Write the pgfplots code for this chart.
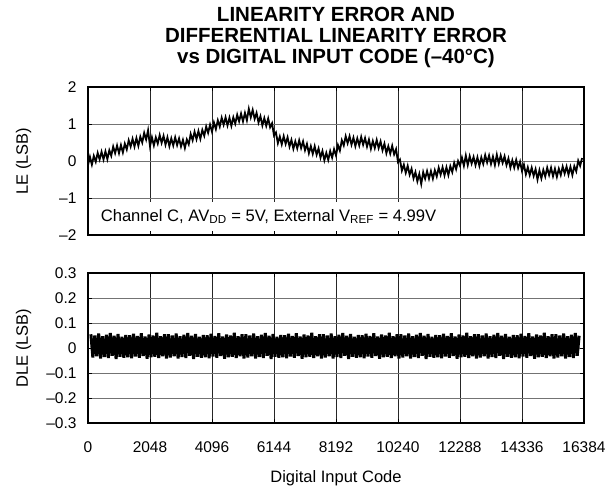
\documentclass[border=0pt]{standalone}
\usepackage{fontspec}
\setmainfont{Liberation Sans}
\usepackage{pgfplots}
\pgfplotsset{compat=1.18}
\pgfplotsset{myax/.style={
  scale only axis, width=496pt,
  xmin=0, xmax=16384,
  xtick={0,2048,4096,6144,8192,10240,12288,14336,16384},
  scaled x ticks=false,
  grid=major,
  x grid style={line width=0.6pt, draw=black!85},
  y grid style={line width=0.7pt, draw=black!55},
  axis line style={line width=2.4pt},
  major tick length=4pt, tick align=inside,
  tick style={line width=0.6pt, black},
  ticklabel style={font=\fontsize{15.5}{18}\selectfont},
  label style={font=\fontsize{16.5}{19}\selectfont},
  yticklabel shift=8pt,
  ylabel style={at={(axis description cs:-0.13,0.5)}, anchor=center},
}}
\begin{document}
\begin{tikzpicture}
\useasboundingbox (0pt,0pt) rectangle (608pt,-491pt);
\node[align=center, font=\bfseries\fontsize{20.5}{21}\selectfont] at (336pt,-37pt)
 {LINEARITY ERROR AND\\DIFFERENTIAL LINEARITY ERROR\\vs DIGITAL INPUT CODE (–40°C)};
\begin{axis}[myax, at={(88pt,-235pt)}, anchor=south west, height=148pt,
  ymin=-2, ymax=2, ytick={-2,-1,0,1,2}, yticklabels={–2,–1,0,1,2},
  xticklabels={}, ylabel={LE (LSB)}]
\addplot[black, line width=1.8pt, line join=miter] coordinates {
(0,-0.11)(64,0.11)(128,-0.10)(192,0.14)(256,-0.02)(320,0.22)(384,0.04)(448,0.25)
(512,0.04)(576,0.26)(640,0.05)(704,0.29)(768,0.14)(832,0.39)(896,0.21)(960,0.42)
(1024,0.21)(1088,0.43)(1152,0.23)(1216,0.47)(1280,0.31)(1344,0.56)(1408,0.39)(1472,0.60)
(1536,0.39)(1600,0.62)(1664,0.41)(1728,0.66)(1792,0.50)(1856,0.76)(1920,0.58)(1984,0.83)
(2048,0.40)(2112,0.64)(2176,0.42)(2240,0.64)(2304,0.47)(2368,0.70)(2432,0.49)(2496,0.68)
(2560,0.44)(2624,0.64)(2688,0.40)(2752,0.61)(2816,0.42)(2880,0.64)(2944,0.43)(3008,0.61)
(3072,0.39)(3136,0.57)(3200,0.35)(3264,0.58)(3328,0.45)(3392,0.73)(3456,0.56)(3520,0.79)
(3584,0.59)(3648,0.81)(3712,0.60)(3776,0.84)(3840,0.68)(3904,0.93)(3968,0.76)(4032,0.98)
(4096,0.79)(4160,1.04)(4224,0.86)(4288,1.10)(4352,0.93)(4416,1.17)(4480,0.98)(4544,1.18)
(4608,0.96)(4672,1.17)(4736,0.95)(4800,1.18)(4864,1.01)(4928,1.25)(4992,1.07)(5056,1.28)
(5120,1.07)(5184,1.30)(5248,1.10)(5312,1.41)(5376,1.18)(5440,1.38)(5504,1.14)(5568,1.30)
(5632,1.04)(5696,1.21)(5760,0.96)(5824,1.16)(5888,0.95)(5952,1.15)(6016,0.91)(6080,1.02)
(6144,0.69)(6208,0.77)(6272,0.48)(6336,0.66)(6400,0.45)(6464,0.67)(6528,0.46)(6592,0.64)
(6656,0.39)(6720,0.57)(6784,0.33)(6848,0.53)(6912,0.34)(6976,0.56)(7040,0.35)(7104,0.53)
(7168,0.29)(7232,0.46)(7296,0.21)(7360,0.40)(7424,0.19)(7488,0.40)(7552,0.17)(7616,0.34)
(7680,0.09)(7744,0.27)(7808,0.02)(7872,0.22)(7936,0.03)(8000,0.27)(8064,0.09)(8128,0.32)
(8192,0.15)(8256,0.43)(8320,0.28)(8384,0.56)(8448,0.42)(8512,0.67)(8576,0.48)(8640,0.67)
(8704,0.44)(8768,0.63)(8832,0.40)(8896,0.61)(8960,0.42)(9024,0.65)(9088,0.44)(9152,0.62)
(9216,0.39)(9280,0.58)(9344,0.33)(9408,0.54)(9472,0.35)(9536,0.57)(9600,0.35)(9664,0.53)
(9728,0.29)(9792,0.47)(9856,0.21)(9920,0.40)(9984,0.20)(10048,0.41)(10112,0.18)(10176,0.32)
(10240,-0.03)(10304,0.04)(10368,-0.26)(10432,-0.10)(10496,-0.32)(10560,-0.13)(10624,-0.37)(10688,-0.21)
(10752,-0.47)(10816,-0.30)(10880,-0.55)(10944,-0.35)(11008,-0.62)(11072,-0.30)(11136,-0.48)(11200,-0.27)
(11264,-0.48)(11328,-0.27)(11392,-0.48)(11456,-0.25)(11520,-0.42)(11584,-0.18)(11648,-0.37)(11712,-0.17)
(11776,-0.39)(11840,-0.17)(11904,-0.38)(11968,-0.14)(12032,-0.30)(12096,-0.05)(12160,-0.22)(12224,0.00)
(12288,-0.13)(12352,0.09)(12416,-0.13)(12480,0.15)(12544,-0.11)(12608,0.13)(12672,-0.07)(12736,0.11)
(12800,-0.11)(12864,0.10)(12928,-0.13)(12992,0.10)(13056,-0.08)(13120,0.16)(13184,-0.04)(13248,0.15)
(13312,-0.08)(13376,0.12)(13440,-0.11)(13504,0.17)(13568,-0.07)(13632,0.15)(13696,-0.05)(13760,0.13)
(13824,-0.11)(13888,0.07)(13952,-0.18)(14016,0.02)(14080,-0.18)(14144,0.03)(14208,-0.19)(14272,-0.02)
(14336,-0.27)(14400,-0.10)(14464,-0.36)(14528,-0.17)(14592,-0.38)(14656,-0.18)(14720,-0.40)(14784,-0.22)
(14848,-0.50)(14912,-0.25)(14976,-0.47)(15040,-0.24)(15104,-0.42)(15168,-0.18)(15232,-0.38)(15296,-0.18)
(15360,-0.41)(15424,-0.21)(15488,-0.43)(15552,-0.21)(15616,-0.38)(15680,-0.15)(15744,-0.34)(15808,-0.15)
(15872,-0.37)(15936,-0.16)(16000,-0.38)(16064,-0.14)(16128,-0.28)(16192,0.01)(16256,-0.13)(16320,0.08)
};
\fill[white] (axis cs:200,-1.1) rectangle (axis cs:12200,-1.88);
\node[font=\fontsize{16.6}{19}\selectfont] at (axis cs:5962,-1.5)
 {Channel C, AV\textsubscript{DD} = 5V, External V\textsubscript{REF} = 4.99V};
\end{axis}
\begin{axis}[myax, at={(88pt,-423pt)}, anchor=south west, height=150pt,
  ymin=-0.3, ymax=0.3, ytick={-0.3,-0.2,-0.1,0,0.1,0.2,0.3},
  yticklabels={–0.3,–0.2,–0.1,0,0.1,0.2,0.3},
  xticklabels={0,2048,4096,6144,8192,10240,12288,14336,16384},
  xticklabel shift=15pt,
  ylabel={DLE (LSB)}, xlabel={Digital Input Code},
  xlabel style={at={(axis description cs:0.5,-0.367)}, anchor=center}]
\addplot[black, line width=3pt] coordinates {
(96,.055)(160,-.038)(224,.050)(288,-.033)(352,.058)(416,-.042)(480,.047)(544,-.036)(608,.053)(672,-.040)(736,.060)(800,-.031)(864,.049)(928,-.044)(992,.056)(1056,-.035)(1120,.045)(1184,-.039)(1248,.052)(1312,-.037)
(1376,.051)(1440,-.041)(1504,.057)(1568,-.034)(1632,.048)(1696,-.039)(1760,.059)(1824,-.032)(1888,.046)(1952,-.043)(2016,.054)(2080,-.037)(2144,.050)(2208,-.035)(2272,.061)(2336,-.040)(2400,.047)(2464,-.033)(2528,.055)(2592,-.042)
(2656,.055)(2720,-.038)(2784,.050)(2848,-.033)(2912,.058)(2976,-.042)(3040,.047)(3104,-.036)(3168,.053)(3232,-.040)(3296,.060)(3360,-.031)(3424,.049)(3488,-.044)(3552,.056)(3616,-.035)(3680,.045)(3744,-.039)(3808,.052)(3872,-.037)
(3936,.051)(4000,-.041)(4064,.057)(4128,-.034)(4192,.048)(4256,-.039)(4320,.059)(4384,-.032)(4448,.046)(4512,-.043)(4576,.054)(4640,-.037)(4704,.050)(4768,-.035)(4832,.061)(4896,-.040)(4960,.047)(5024,-.033)(5088,.055)(5152,-.042)
(5216,.055)(5280,-.038)(5344,.050)(5408,-.033)(5472,.058)(5536,-.042)(5600,.047)(5664,-.036)(5728,.053)(5792,-.040)(5856,.060)(5920,-.031)(5984,.049)(6048,-.044)(6112,.056)(6176,-.035)(6240,.045)(6304,-.039)(6368,.052)(6432,-.037)
(6496,.051)(6560,-.041)(6624,.057)(6688,-.034)(6752,.048)(6816,-.039)(6880,.059)(6944,-.032)(7008,.046)(7072,-.043)(7136,.054)(7200,-.037)(7264,.050)(7328,-.035)(7392,.061)(7456,-.040)(7520,.047)(7584,-.033)(7648,.055)(7712,-.042)
(7776,.055)(7840,-.038)(7904,.050)(7968,-.033)(8032,.058)(8096,-.042)(8160,.047)(8224,-.036)(8288,.053)(8352,-.040)(8416,.060)(8480,-.031)(8544,.049)(8608,-.044)(8672,.056)(8736,-.035)(8800,.045)(8864,-.039)(8928,.052)(8992,-.037)
(9056,.051)(9120,-.041)(9184,.057)(9248,-.034)(9312,.048)(9376,-.039)(9440,.059)(9504,-.032)(9568,.046)(9632,-.043)(9696,.054)(9760,-.037)(9824,.050)(9888,-.035)(9952,.061)(10016,-.040)(10080,.047)(10144,-.033)(10208,.055)(10272,-.042)
(10336,.055)(10400,-.038)(10464,.050)(10528,-.033)(10592,.058)(10656,-.042)(10720,.047)(10784,-.036)(10848,.053)(10912,-.040)(10976,.060)(11040,-.031)(11104,.049)(11168,-.044)(11232,.056)(11296,-.035)(11360,.045)(11424,-.039)(11488,.052)(11552,-.037)
(11616,.051)(11680,-.041)(11744,.057)(11808,-.034)(11872,.048)(11936,-.039)(12000,.059)(12064,-.032)(12128,.046)(12192,-.043)(12256,.054)(12320,-.037)(12384,.050)(12448,-.035)(12512,.061)(12576,-.040)(12640,.047)(12704,-.033)(12768,.055)(12832,-.042)
(12896,.055)(12960,-.038)(13024,.050)(13088,-.033)(13152,.058)(13216,-.042)(13280,.047)(13344,-.036)(13408,.053)(13472,-.040)(13536,.060)(13600,-.031)(13664,.049)(13728,-.044)(13792,.056)(13856,-.035)(13920,.045)(13984,-.039)(14048,.052)(14112,-.037)
(14176,.051)(14240,-.041)(14304,.057)(14368,-.034)(14432,.048)(14496,-.039)(14560,.059)(14624,-.032)(14688,.046)(14752,-.043)(14816,.054)(14880,-.037)(14944,.050)(15008,-.035)(15072,.061)(15136,-.040)(15200,.047)(15264,-.033)(15328,.055)(15392,-.042)
(15456,.055)(15520,-.038)(15584,.050)(15648,-.033)(15712,.058)(15776,-.042)(15840,.047)(15904,-.036)(15968,.053)(16032,-.040)(16096,.060)(16160,-.031)(16224,.049)
};
\end{axis}
\end{tikzpicture}
\end{document}
